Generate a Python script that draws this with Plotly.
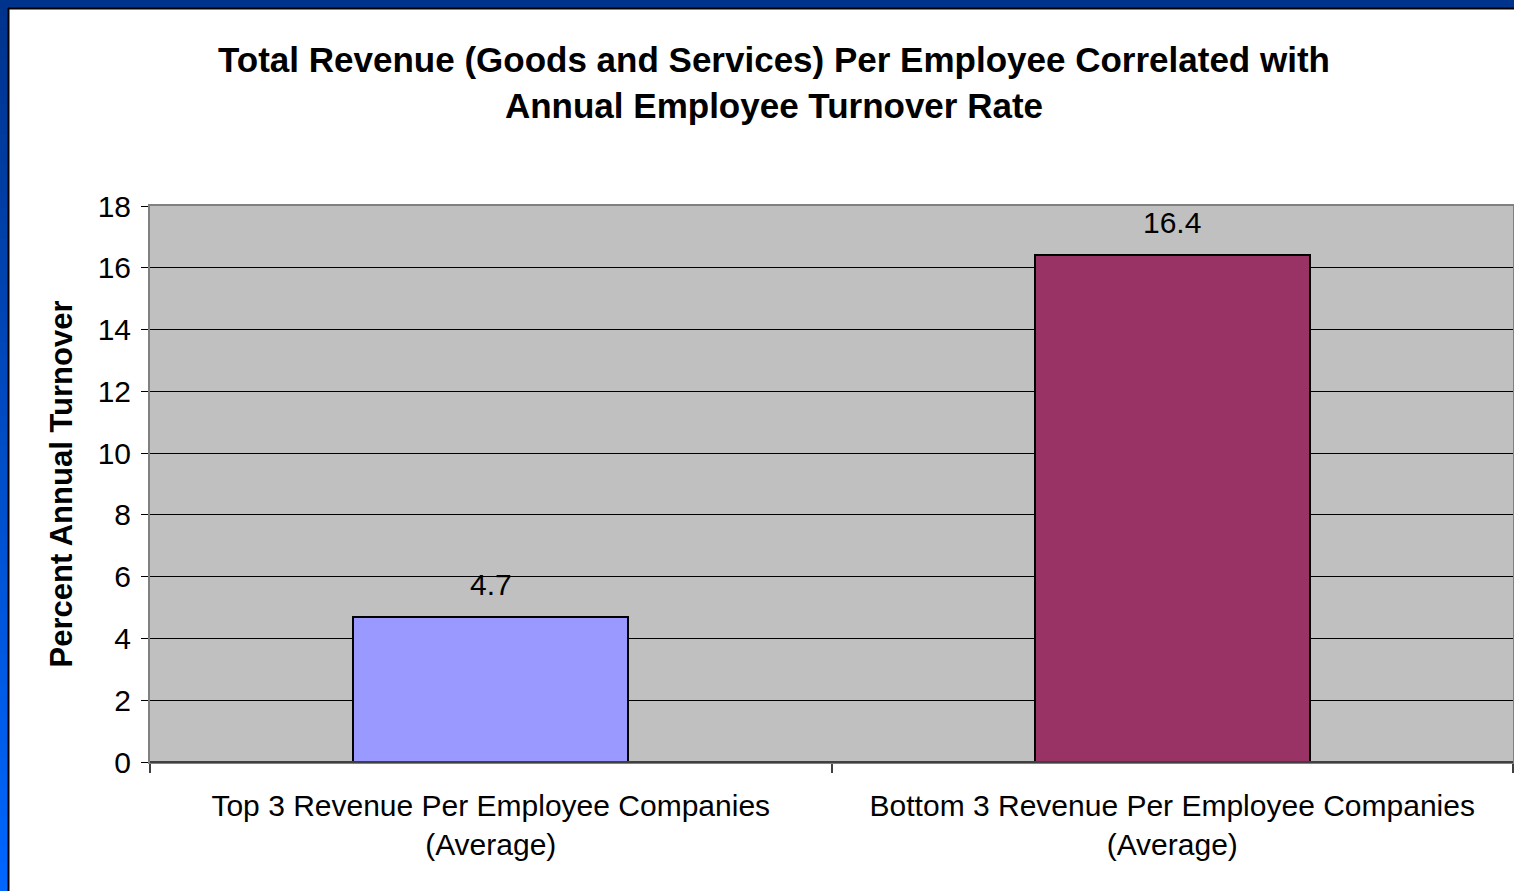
import plotly.graph_objects as go

# Chart data
categories = [
    "Top 3 Revenue Per Employee Companies<br>(Average)",
    "Bottom 3 Revenue Per Employee Companies<br>(Average)",
]
turnover = [4.7, 16.4]
bar_colors = ["#9999FF", "#993366"]
y_ticks = [0, 2, 4, 6, 8, 10, 12, 14, 16, 18]

FONT = "Arial, Liberation Sans, sans-serif"
W, H = 1514, 891
L, R, T, B = 150, 1, 206, 129
PW, PH = W - L - R, H - T - B


def px_x(x):
    return (x - L) / PW


def px_y(y):
    return (H - B - y) / PH


fig = go.Figure()
fig.add_trace(go.Bar(
    x=categories,
    y=turnover,
    marker=dict(color=bar_colors, line=dict(color="#000000", width=2)),
    width=0.404,
    hoverinfo="x+y",
))

# value labels above the bars
annotations = [
    dict(x=c, y=v, xref="x", yref="y", text=f"{v}", showarrow=False,
         yanchor="bottom", yshift=14, font=dict(family=FONT, size=30, color="#000000"))
    for c, v in zip(categories, turnover)
]

# slide frame: blue gradient strip on the left, dark blue strip on top
shapes = []
n = 60
top_rgb = (0, 51, 140)
bot_rgb = (0, 102, 255)
for i in range(n):
    f = i / (n - 1)
    col = "rgb(%d,%d,%d)" % tuple(round(a + (b - a) * f) for a, b in zip(top_rgb, bot_rgb))
    y0 = i * H / n
    y1 = (i + 1) * H / n + 1
    shapes.append(dict(type="rect", xref="paper", yref="paper",
                       x0=px_x(0), x1=px_x(8), y0=px_y(y1), y1=px_y(y0),
                       line=dict(width=0), fillcolor=col, layer="above"))
shapes.append(dict(type="rect", xref="paper", yref="paper",
                   x0=px_x(0), x1=px_x(W), y0=px_y(8), y1=px_y(0),
                   line=dict(width=0), fillcolor="rgb(0,51,140)", layer="above"))
shapes.append(dict(type="line", xref="paper", yref="paper",
                   x0=px_x(8.5), x1=px_x(8.5), y0=px_y(H), y1=px_y(8),
                   line=dict(color="#000000", width=2), layer="above"))
shapes.append(dict(type="line", xref="paper", yref="paper",
                   x0=px_x(8), x1=px_x(W), y0=px_y(8.5), y1=px_y(8.5),
                   line=dict(color="#000000", width=2), layer="above"))
# darker base line along the category axis
shapes.append(dict(type="line", xref="paper", yref="paper",
                   x0=0, x1=1, y0=0, y1=0,
                   line=dict(color="#404040", width=2), layer="above"))

fig.update_layout(
    width=W, height=H,
    margin=dict(l=L, r=R, t=T, b=B, autoexpand=False),
    paper_bgcolor="#FFFFFF",
    plot_bgcolor="#C0C0C0",
    showlegend=False,
    bargap=0,
    font=dict(family=FONT, color="#000000"),
    title=dict(
        text="<b>Total Revenue (Goods and Services) Per Employee Correlated with<br>Annual Employee Turnover Rate</b>",
        x=774 / W, xanchor="center", xref="container",
        y=1 - 72 / H, yanchor="top", yref="container",
        font=dict(family=FONT, size=35, color="#000000"),
    ),
    xaxis=dict(
        type="category",
        tickson="boundaries",
        ticks="outside", ticklen=9, tickwidth=2, tickcolor="#404040",
        ticklabelstandoff=16,
        showline=True, linecolor="#808080", linewidth=2, mirror=True,
        showgrid=False,
        tickfont=dict(family=FONT, size=30, color="#000000"),
        automargin=False,
    ),
    yaxis=dict(
        range=[0, 18],
        tickvals=y_ticks,
        ticks="outside", ticklen=7, tickwidth=1, tickcolor="#000000",
        ticklabelstandoff=4,
        showline=True, linecolor="#808080", linewidth=2, mirror=True,
        showgrid=True, gridcolor="#000000", gridwidth=1,
        zeroline=False,
        tickfont=dict(family=FONT, size=30, color="#000000"),
        title=dict(text="<b>Percent Annual Turnover</b>",
                   font=dict(family=FONT, size=31, color="#000000"), standoff=16),
        automargin=False,
    ),
    annotations=annotations,
    shapes=shapes,
)

fig.write_html("out.html")
